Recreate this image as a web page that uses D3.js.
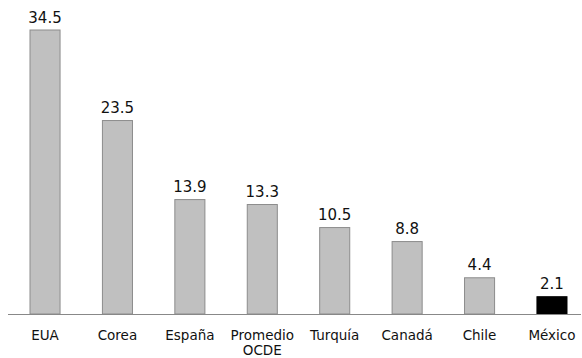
<!DOCTYPE html>
<html>
<head>
<meta charset="utf-8">
<script src="https://cdn.jsdelivr.net/npm/d3@7"></script>
<style>
  body { margin: 0; background: #fff; }
  text { font-family: "DejaVu Sans", sans-serif; }
</style>
</head>
<body>
<div id="chart"></div>
<script>
// chart data
const categories = ["EUA", "Corea", "España", "Promedio OCDE", "Turquía", "Canadá", "Chile", "México"];
const values = [34.5, 23.5, 13.9, 13.3, 10.5, 8.8, 4.4, 2.1];
const highlight = ["México"];

const width = 582;
const height = 358;
const baseY = 314;

const svg = d3.select("#chart")
  .append("svg")
  .attr("width", width)
  .attr("height", height);

const x = d3.scaleBand()
  .domain(categories)
  .range([9, 588])
  .paddingInner(0.585)
  .paddingOuter(0.29);

const y = d3.scaleLinear()
  .domain([0, 34.5])
  .range([baseY, 30]);

const data = categories.map((c, i) => ({ name: c, value: values[i] }));

svg.append("g")
  .selectAll("rect")
  .data(data)
  .join("rect")
  .attr("x", d => x(d.name))
  .attr("y", d => y(d.value))
  .attr("width", x.bandwidth())
  .attr("height", d => baseY - y(d.value))
  .attr("fill", d => highlight.includes(d.name) ? "#000" : "#c0c0c0")
  .attr("stroke", d => highlight.includes(d.name) ? "#000" : "#8c8c8c")
  .attr("stroke-width", 1);

// baseline
svg.append("line")
  .attr("x1", 8)
  .attr("x2", 581)
  .attr("y1", baseY + 0.5)
  .attr("y2", baseY + 0.5)
  .attr("stroke", "#888");

// value labels
svg.append("g")
  .selectAll("text")
  .data(data)
  .join("text")
  .attr("x", d => x(d.name) + x.bandwidth() / 2)
  .attr("y", d => y(d.value) - 7.5)
  .attr("text-anchor", "middle")
  .attr("font-size", "15px")
  .attr("fill", "#111")
  .text(d => d.value.toFixed(1));

// category labels (wrap long one on two lines)
const labels = svg.append("g")
  .selectAll("text")
  .data(data)
  .join("text")
  .attr("x", d => x(d.name) + x.bandwidth() / 2)
  .attr("y", 340)
  .attr("text-anchor", "middle")
  .attr("font-size", "13.5px")
  .attr("fill", "#111");

labels.each(function(d) {
  const words = d.name === "Promedio OCDE" ? ["Promedio", "OCDE"] : [d.name];
  const t = d3.select(this);
  words.forEach((w, i) => {
    t.append("tspan")
      .attr("x", x(d.name) + x.bandwidth() / 2)
      .attr("dy", i === 0 ? 0 : 15)
      .text(w);
  });
});
</script>
</body>
</html>
